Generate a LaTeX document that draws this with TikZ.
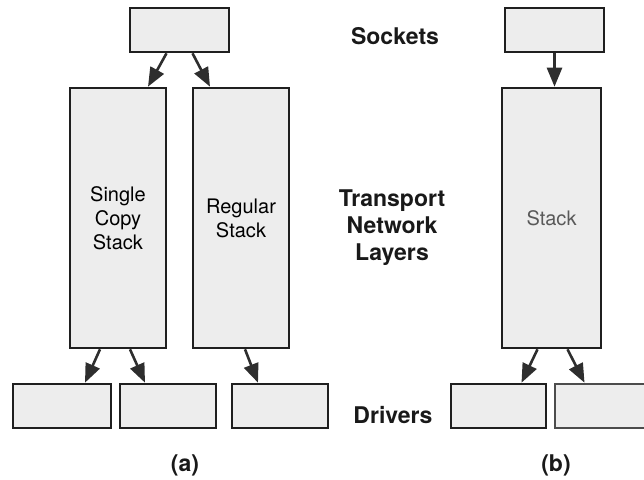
\documentclass[tikz,border=0pt]{standalone}
\usepackage{fontspec}
\setmainfont{TeX Gyre Heros}
\usetikzlibrary{arrows.meta,calc}
\newcommand{\shadebox}{black!7}
\newcommand{\edgebox}{black!88}
\tikzset{layer/.style={draw=\edgebox, fill=\shadebox, line width=2.6pt, inner sep=0pt, font=\fontsize{20}{24}\selectfont, align=center},
  feed/.style={draw=black!82, line width=2.6pt, -{Triangle[length=19pt,width=15pt]}},
  tag/.style={font=\fontsize{23}{27}\selectfont\bfseries, align=center, text=black!90}}

\begin{document}
\begin{tikzpicture}[x=1pt,y=-1pt]
\useasboundingbox (0,0) rectangle (644,479);
\clip (0,0) rectangle (644,479);
\node[layer, minimum width=99, minimum height=44] (sockA) at (179.5,30) {};
\node[layer, minimum width=96, minimum height=260] (single) at (118,218) {Single\\Copy\\Stack};
\node[layer, minimum width=96, minimum height=260] (regular) at (241,218) {Regular\\Stack};
\node[layer, minimum width=98, minimum height=44] (drvA) at (62,406) {};
\node[layer, minimum width=96, minimum height=44] (drvB) at (168,406) {};
\node[layer, minimum width=96, minimum height=44] (drvC) at (280,406) {};
\node[layer, minimum width=99, minimum height=44] (sockB) at (554.5,30) {};
\node[layer, minimum width=99, minimum height=260, text=black!65] (stack) at (551.5,218) {Stack};
\node[layer, minimum width=95, minimum height=44] (drvD) at (498.5,406) {};
\node[layer, minimum width=95, minimum height=44, draw=black!70] (drvE) at (602.5,406) {};
\draw[feed] ($(sockA.south)+(-13,0)$) -- ($(single.north)+(30,0)$);
\draw[feed] ($(sockA.south)+(13,0)$) -- ($(regular.north)+(-31,0)$);
\draw[feed] (sockB.south) -- (sockB.south |- stack.north);
\draw[feed] ($(single.south)+(-18,0)$) -- ($(drvA.north)+(23,0)$);
\draw[feed] ($(single.south)+(12,0)$) -- ($(drvB.north)+(-23,0)$);
\draw[feed] ($(regular.south)+(4,0)$) -- ($(drvC.north)+(-22,0)$);
\draw[feed] ($(stack.south)+(-14,0)$) -- ($(drvD.north)+(23,0)$);
\draw[feed] ($(stack.south)+(16,0)$) -- ($(drvE.north)+(-18,0)$);
\node[tag] (sockets) at (395,36) {Sockets};
\node[tag] (transport) at (392,228) {Transport\\Network\\Layers};
\node[tag] (drivers) at (393,415) {Drivers};
\node[tag] (capA) at (185,465) {(a)};
\node[tag] (capB) at (556,465) {(b)};
\end{tikzpicture}
\end{document}
